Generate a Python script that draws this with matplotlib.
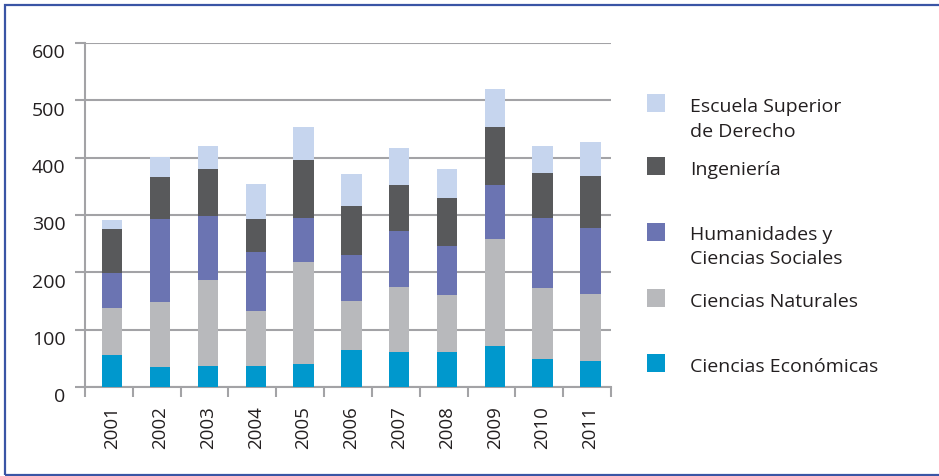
import numpy as np
import matplotlib
matplotlib.use("Agg")
import matplotlib.pyplot as plt
from matplotlib.patches import Rectangle
from matplotlib.transforms import ScaledTranslation

plt.rcParams['font.family'] = ['Open Sans', 'DejaVu Sans']

years = ['2001', '2002', '2003', '2004', '2005', '2006',
         '2007', '2008', '2009', '2010', '2011']

# Students per faculty, stacked bottom to top
economicas = [56, 35, 37, 37, 40, 65, 61, 61, 72, 49, 45]
naturales = [82, 113, 150, 96, 178, 85, 113, 99, 186, 124, 117]
humanidades = [61, 145, 111, 102, 77, 80, 98, 86, 94, 122, 115]
ingenieria = [77, 73, 82, 58, 101, 86, 80, 84, 101, 78, 91]
derecho = [15, 36, 40, 61, 57, 56, 65, 50, 67, 47, 59]

series = [
    ('Ciencias Económicas', economicas, '#0098cd'),
    ('Ciencias Naturales', naturales, '#b8b9bc'),
    ('Humanidades y\nCiencias Sociales', humanidades, '#6b74b2'),
    ('Ingeniería', ingenieria, '#58595b'),
    ('Escuela Superior\nde Derecho', derecho, '#c6d5ee'),
]

W, H = 939, 477
fig = plt.figure(figsize=(W / 100, H / 100), dpi=100)
ax = fig.add_axes([85 / W, 1 - 388 / H, 526 / W, 344 / H])

grid_c = '#a3a3a6'
text_c = '#231f20'

x = np.arange(len(years))
bottom = np.zeros(len(years))
for name, vals, col in series:
    ax.bar(x, vals, width=0.425, bottom=bottom, color=col, zorder=3, linewidth=0)
    bottom += np.array(vals)

ax.set_ylim(0, 600)
ax.set_xlim(-0.57, 10.43)
ax.set_yticks(np.arange(0, 601, 100))
ax.yaxis.grid(True, color=grid_c, linewidth=1.5, zorder=0)
ax.set_axisbelow(True)

for s in ('top', 'right'):
    ax.spines[s].set_visible(False)
for s in ('left', 'bottom'):
    ax.spines[s].set_color(grid_c)
    ax.spines[s].set_linewidth(1.5)

ax.set_xticks(x, years, rotation=90)
ax.set_xticks(np.arange(-0.57, 10.5, 1.0), minor=True)
ax.tick_params(axis='x', which='major', length=0, pad=13, labelsize=13.5, labelcolor=text_c)
ax.tick_params(axis='x', which='minor', length=7, width=1.5, color=grid_c)
ax.tick_params(axis='y', length=7, width=1.5, color=grid_c, pad=7, labelsize=14, labelcolor=text_c)

shift = ScaledTranslation(0, -0.075, fig.dpi_scale_trans)
for lab in ax.get_yticklabels():
    lab.set_transform(lab.get_transform() + shift)

# Legend drawn beside the plot, top entry first
legend_rows = [
    (series[4], 104, [112, 137]),
    (series[3], 167, [175]),
    (series[2], 233, [240, 264]),
    (series[1], 299, [307]),
    (series[0], 364, [372]),
]
for (name, _, col), cy, baselines in legend_rows:
    fig.add_artist(Rectangle((647 / W, 1 - (cy + 9) / H), 18 / W, 18 / H,
                             transform=fig.transFigure, color=col, linewidth=0))
    for line, by in zip(name.split('\n'), baselines):
        fig.text(690 / W, 1 - by / H, line, fontsize=14, color=text_c, va='baseline', ha='left')

# Frame around the figure
fig.add_artist(Rectangle((5 / W, 1 / H), 1.05, (476 - 6) / H, transform=fig.transFigure,
                         fill=False, edgecolor='#3a55a5', linewidth=1.6))

fig.savefig('out.png', dpi=100)
